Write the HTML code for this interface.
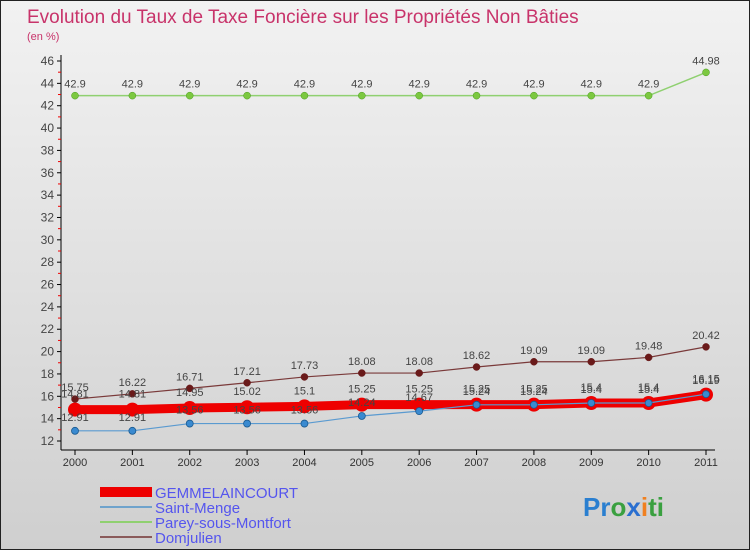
<!DOCTYPE html>
<html><head><meta charset="utf-8"><style>
body{margin:0;width:750px;height:550px;overflow:hidden;font-family:"Liberation Sans",sans-serif}
svg text{font-family:"Liberation Sans",sans-serif}
</style></head><body>
<svg width="750" height="550">
<defs><linearGradient id="bg" x1="0" y1="0" x2="0" y2="1"><stop offset="0" stop-color="#f2f2f2"/><stop offset="1" stop-color="#cfcfcf"/></linearGradient></defs>
<rect x="0.5" y="0.5" width="749" height="549" fill="url(#bg)" stroke="#222"/>
<text x="27" y="23" font-size="19" fill="#c8336a">Evolution du Taux de Taxe Foncière sur les Propriétés Non Bâties</text>
<text x="27" y="40" font-size="11" fill="#c8336a">(en %)</text>
<g id="axes"></g><g id="series"></g>
<g>
<rect x="100" y="487" width="52" height="10" fill="#e00"/>
<text x="155" y="498" font-size="15" fill="#5555ee">GEMMELAINCOURT</text>
<line x1="100" y1="507" x2="152" y2="507" stroke="#6fa3cc" stroke-width="2"/>
<text x="155" y="513" font-size="15" fill="#5555ee">Saint-Menge</text>
<line x1="100" y1="522" x2="152" y2="522" stroke="#8fd070" stroke-width="2"/>
<text x="155" y="528" font-size="15" fill="#5555ee">Parey-sous-Montfort</text>
<line x1="100" y1="537" x2="152" y2="537" stroke="#8a5a5a" stroke-width="2"/>
<text x="155" y="543" font-size="15" fill="#5555ee">Domjulien</text>
</g>
<text x="583" y="516" font-size="26" font-weight="bold"><tspan fill="#2a7fd0">Pr</tspan><tspan fill="#3aa040">o</tspan><tspan fill="#2a6fd0">x</tspan><tspan fill="#f08020">i</tspan><tspan fill="#3aa040">ti</tspan></text>
</svg>
<script>
const years=["2000","2001","2002","2003","2004","2005","2006","2007","2008","2009","2010","2011"];
const gemmelaincourt=[14.81,14.81,14.95,15.02,15.1,15.25,15.25,15.25,15.25,15.4,15.4,16.15];
const saintMenge=[12.91,12.91,13.56,13.56,13.56,14.24,14.67,15.24,15.24,15.4,15.4,16.19];
const parey=[42.9,42.9,42.9,42.9,42.9,42.9,42.9,42.9,42.9,42.9,42.9,44.98];
const domjulien=[15.75,16.22,16.71,17.21,17.73,18.08,18.08,18.62,19.09,19.09,19.48,20.42];
const yTicks=[12,14,16,18,20,22,24,26,28,30,32,34,36,38,40,42,44,46];
const NS="http://www.w3.org/2000/svg";
const X=i=>75+i*(706-75)/(years.length-1);
const Y=v=>441-(v-12)*(441-61)/34;
function mk(t,a,p){const e=document.createElementNS(NS,t);for(const k in a)e.setAttribute(k,a[k]);p.appendChild(e);return e;}
const ax=document.getElementById('axes');
let l=mk('line',{x1:61,y1:55,x2:61,y2:450,stroke:'#000'},ax);


l=mk('line',{x1:61,y1:450,x2:715,y2:450,stroke:'#000'},ax);


yTicks.forEach(v=>{
 mk('line',{x1:57,y1:Y(v),x2:61,y2:Y(v),stroke:'#000'},ax);
 if(v<46) mk('line',{x1:58,y1:Y(v+1),x2:61,y2:Y(v+1),stroke:'#e00'},ax);
 const t=mk('text',{x:54,y:Y(v)+4,'font-size':12,'text-anchor':'end',fill:'#444'},ax);t.textContent=v;
 
 
});
years.forEach((y,i)=>{
 mk('line',{x1:X(i),y1:450,x2:X(i),y2:455,stroke:'#000'},ax);
 const t=mk('text',{x:X(i),y:466,'font-size':11,'text-anchor':'middle',fill:'#333'},ax);t.textContent=y;
 
 
});
const sg=document.getElementById('series');
function series(name,data,color,w,r,fill,stroke,sw,lblDy){
 const g=mk('g',{},sg);
 
 
 const p=mk('polyline',{points:data.map((v,i)=>X(i)+','+Y(v)).join(' '),fill:'none',stroke:color,'stroke-width':w},g);
 
 
 data.forEach((v,i)=>{
  const c=mk('circle',{cx:X(i),cy:Y(v),r:r,fill:fill,stroke:stroke,'stroke-width':sw},g);
  
  
  const t=mk('text',{x:X(i),y:Y(v)+lblDy,'font-size':11,'text-anchor':'middle',fill:'#444'},g);
  t.textContent=String(v).replace(/\.?0+$/,'');
  
  
 });
}
series('parey',parey,'#8fd070',1.5,3.5,'#7cc840','#4a9a20',0.5,-8);
series('domjulien',domjulien,'#7a3a3a',1.2,3.5,'#6a1a1a','#6a1a1a',0.5,-8);
series('gemmelaincourt',gemmelaincourt,'#ee0000',9,7,'#ee0000','#ee0000',0,-12);
series('saint-menge',saintMenge,'#5a9ad0',1.2,3.5,'#3a8ad0','#1a5a90',0.8,-10);
</script>
</body></html>
